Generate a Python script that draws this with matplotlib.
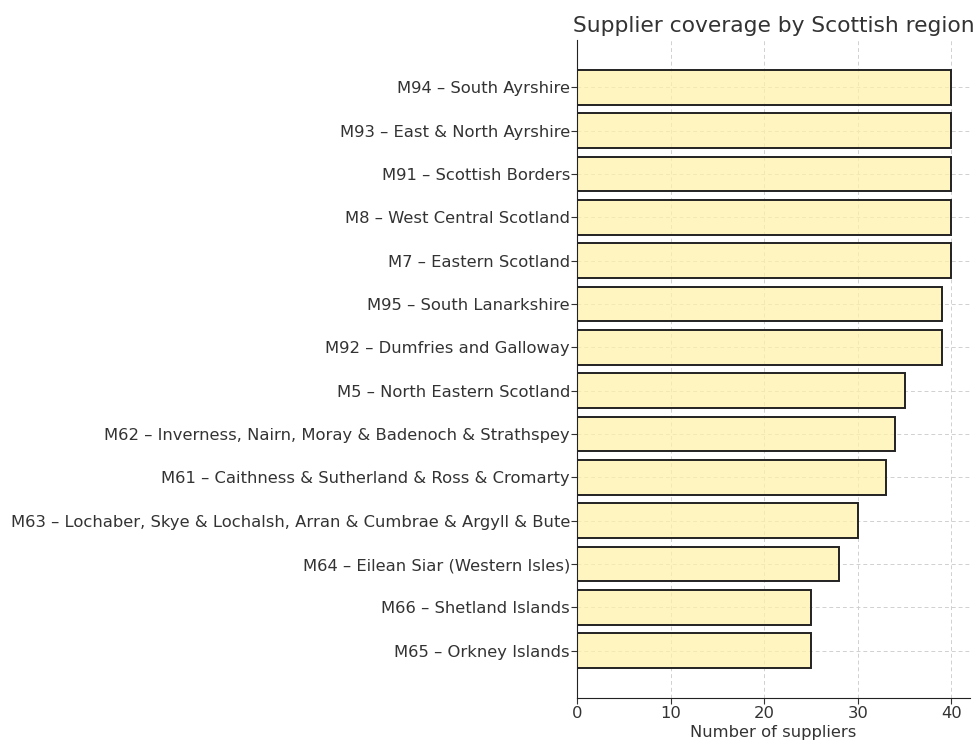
import matplotlib
matplotlib.use("Agg")
import matplotlib.pyplot as plt
from matplotlib.colors import to_rgba

regions = [
    "M94 – South Ayrshire",
    "M93 – East & North Ayrshire",
    "M91 – Scottish Borders",
    "M8 – West Central Scotland",
    "M7 – Eastern Scotland",
    "M95 – South Lanarkshire",
    "M92 – Dumfries and Galloway",
    "M5 – North Eastern Scotland",
    "M62 – Inverness, Nairn, Moray & Badenoch & Strathspey",
    "M61 – Caithness & Sutherland & Ross & Cromarty",
    "M63 – Lochaber, Skye & Lochalsh, Arran & Cumbrae & Argyll & Bute",
    "M64 – Eilean Siar (Western Isles)",
    "M66 – Shetland Islands",
    "M65 – Orkney Islands",
]
suppliers = [40, 40, 40, 40, 40, 39, 39, 35, 34, 33, 30, 28, 25, 25]

text_color = "#333333"
plt.rcParams["font.family"] = ["DejaVu Sans"]
plt.rcParams["text.color"] = text_color
plt.rcParams["axes.labelcolor"] = text_color
plt.rcParams["xtick.color"] = text_color
plt.rcParams["ytick.color"] = text_color

fig = plt.figure(figsize=(9.77, 7.42), dpi=100)
ax = fig.add_axes([577/977, 1 - 698/742, (970-577)/977, (698-40)/742])

y = list(range(len(regions)))[::-1]
ax.barh(y, suppliers, height=0.8, color=to_rgba("#fff2a8", 0.72),
        edgecolor="#222222", linewidth=1.4, zorder=2)
ax.set_yticks(y)
ax.set_yticklabels(regions, fontsize=11.8)
ax.tick_params(axis="y", length=4, pad=1)
ax.tick_params(axis="x", labelsize=11.8, length=4, pad=2)
ax.set_xticks([0, 10, 20, 30, 40])
ax.set_xlabel("Number of suppliers", fontsize=11.8, labelpad=3)
ax.set_title("Supplier coverage by Scottish region", fontsize=15.7, pad=6)
ax.grid(True, linestyle=(0, (4, 3)), color="#d0d0d0", linewidth=0.7, zorder=0)
ax.set_axisbelow(True)
for s in ["top", "right"]:
    ax.spines[s].set_visible(False)
ax.spines["left"].set_color("#222222")
ax.spines["bottom"].set_color("#222222")

fig.savefig("out.png", dpi=100)
